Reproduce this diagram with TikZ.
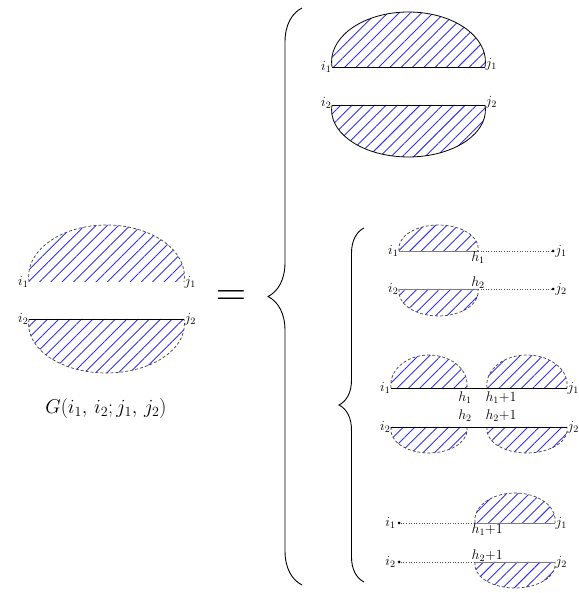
\RequirePackage{fix-cm}
\documentclass[tikz,border=0pt]{standalone}
\usepackage{amsmath}
\usepackage{tikz}
\usetikzlibrary{patterns.meta, decorations.pathreplacing, positioning}
\definecolor{HatchBlue}{RGB}{50, 50, 235}
\definecolor{ChordGray}{RGB}{125, 125, 125}

% half-dome: style, left x, right x, chord y, height, 1 = up / -1 = down
\newcommand{\dome}[6]{%
  \pgfmathsetmacro\domerx{(#3-#2)/2/cos(6)}%
  \pgfmathsetmacro\domery{#5/(1+sin(6))}%
  \ifnum#6>0
    \fill[hatch] (#2,#4) arc[start angle=186, end angle=-6, x radius=\domerx pt, y radius=\domery pt] -- cycle;
    \draw[#1] (#2,#4) arc[start angle=186, end angle=-6, x radius=\domerx pt, y radius=\domery pt];
  \else
    \fill[hatch] (#2,#4) arc[start angle=174, end angle=366, x radius=\domerx pt, y radius=\domery pt] -- cycle;
    \draw[#1] (#2,#4) arc[start angle=174, end angle=366, x radius=\domerx pt, y radius=\domery pt];
  \fi}

\begin{document}
\begin{tikzpicture}[
    x=1pt, y=1pt,
    hatch/.style={pattern={Lines[angle=45, distance=8pt, line width=0.9pt]}, pattern color=HatchBlue},
    dashline/.style={draw=black!75, line width=0.7pt, dash pattern=on 3pt off 2pt},
    solidline/.style={draw=black, line width=0.8pt},
    chord/.style={draw=black, line width=0.9pt},
    graychord/.style={draw=ChordGray, line width=0.9pt},
    dotline/.style={draw=black!70, line width=0.6pt, dotted},
    dot/.style={circle, fill=black, inner sep=0pt, minimum size=3pt},
    lbl/.style={font=\fontsize{14}{16}\selectfont, inner sep=0.5pt},
    bigbrace/.style={decorate, decoration={brace, amplitude=#1}, line width=0.9pt}
]
\useasboundingbox (0,0) rectangle (578,593);

% left: G(i1,i2;j1,j2)
\coordinate (Gi1) at (29,311);  \coordinate (Gj1) at (184,311);
\coordinate (Gi2) at (29,274);  \coordinate (Gj2) at (184,274);
\dome{dashline}{29}{184}{311}{57}{1}
\dome{dashline}{29}{184}{274}{54}{-1}
\draw[chord] (Gi2) -- (Gj2);
\node[lbl, left=0pt of Gi1] (lGi1) {$i_1$};
\node[lbl, right=0pt of Gj1] (lGj1) {$j_1$};
\node[lbl, left=0pt of Gi2] (lGi2) {$i_2$};
\node[lbl, right=0pt of Gj2] (lGj2) {$j_2$};
\node[font=\fontsize{20}{24}\selectfont] (Gname) at (106,184) {$G(i_1,\,i_2;j_1,\,j_2)$};
\node[font=\fontsize{42}{46}\selectfont] (eq) at (231,295) {$=$};

% outer brace
\coordinate (B1a) at (302,8);  \coordinate (B1b) at (302,585);
\draw[bigbrace=34pt] (B1a) -- (B1b);

% top right: disconnected
\coordinate (Ti1) at (332,526);  \coordinate (Tj1) at (485,526);
\coordinate (Ti2) at (332,488);  \coordinate (Tj2) at (485,488);
\dome{solidline}{332}{485}{526}{55}{1}
\dome{solidline}{332}{485}{488}{52}{-1}
\draw[chord] (Ti1) -- (Tj1);
\draw[chord] (Ti2) -- (Tj2);
\node[lbl, left=0pt of Ti1] (lTi1) {$i_1$};
\node[lbl, right=0pt of Tj1, yshift=3pt] (lTj1) {$j_1$};
\node[lbl, left=0pt of Ti2, yshift=2pt] (lTi2) {$i_2$};
\node[lbl, right=0pt of Tj2, yshift=3pt] (lTj2) {$j_2$};

% inner brace
\coordinate (B2a) at (364,11);  \coordinate (B2b) at (364,365);
\draw[bigbrace=25pt] (B2a) -- (B2b);

% case 1
\coordinate (Ai1) at (399,342);  \coordinate (Ah1) at (478,342);
\coordinate (Ai2) at (399,304);  \coordinate (Ah2) at (478,304);
\dome{dashline}{399}{478}{342}{26}{1}
\dome{dashline}{399}{478}{304}{27}{-1}
\draw[graychord] (Ai1) -- (Ah1);
\draw[graychord] (Ai2) -- (Ah2);
\node[dot] (Aj1) at (553,342) {};
\node[dot] (Aj2) at (553,304) {};
\draw[dotline] (Ah1) -- (Aj1);
\draw[dotline] (Ah2) -- (Aj2);
\node[lbl, left=0pt of Ai1] (lAi1) {$i_1$};
\node[lbl, left=0pt of Ai2] (lAi2) {$i_2$};
\node[lbl, right=0pt of Aj1] (lAj1) {$j_1$};
\node[lbl, right=0pt of Aj2] (lAj2) {$j_2$};
\node[lbl, below=0pt of Ah1] (lAh1) {$h_1$};
\node[lbl, above=0pt of Ah2] (lAh2) {$h_2$};

% case 2
\coordinate (Ci1) at (391,205);  \coordinate (Cj1) at (567,205);
\coordinate (Ci2) at (391,166);  \coordinate (Cj2) at (567,166);
\dome{dashline}{391}{467}{205}{33}{1}
\dome{dashline}{391}{467}{166}{26}{-1}
\dome{dashline}{487}{567}{205}{33}{1}
\dome{dashline}{487}{567}{166}{26}{-1}
\draw[chord] (Ci1) -- (Cj1);
\draw[chord] (Ci2) -- (Cj2);
\node[lbl, left=0pt of Ci1] (lCi1) {$i_1$};
\node[lbl, left=0pt of Ci2] (lCi2) {$i_2$};
\node[lbl, right=0pt of Cj1] (lCj1) {$j_1$};
\node[lbl, right=0pt of Cj2] (lCj2) {$j_2$};
\node[lbl] (lCh1) at (465,195) {$h_1$};
\node[lbl] (lCh1p) at (501,195) {$h_1{+}1$};
\node[lbl] (lCh2) at (465,177) {$h_2$};
\node[lbl] (lCh2p) at (501,177) {$h_2{+}1$};

% case 3
\node[dot] (Di1) at (399,70) {};
\node[dot] (Di2) at (399,31) {};
\coordinate (Dh1) at (475,70);  \coordinate (Dj1) at (555,70);
\coordinate (Dh2) at (475,31);  \coordinate (Dj2) at (555,31);
\dome{dashline}{475}{555}{70}{30}{1}
\dome{dashline}{475}{555}{31}{26}{-1}
\draw[dotline] (Di1) -- (Dh1);
\draw[dotline] (Di2) -- (Dh2);
\draw[graychord] (Dh1) -- (Dj1);
\draw[graychord] (Dh2) -- (Dj2);
\node[lbl, left=1pt of Di1] (lDi1) {$i_1$};
\node[lbl, left=1pt of Di2] (lDi2) {$i_2$};
\node[lbl, right=0pt of Dj1] (lDj1) {$j_1$};
\node[lbl, right=0pt of Dj2] (lDj2) {$j_2$};
\node[lbl, below right=0pt and -4pt of Dh1] (lDh1) {$h_1{+}1$};
\node[lbl, above right=0pt and -4pt of Dh2] (lDh2) {$h_2{+}1$};
\end{tikzpicture}
\end{document}
